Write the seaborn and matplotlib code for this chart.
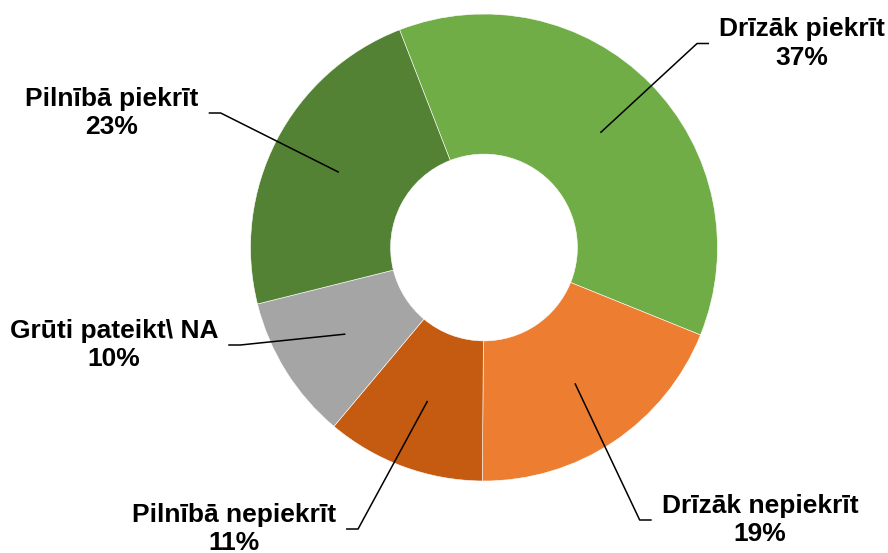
import matplotlib
matplotlib.use("Agg")
import matplotlib.pyplot as plt
import seaborn as sns
import numpy as np

# Survey answers, in clockwise order starting from the top of the ring
categories = ["Drīzāk piekrīt", "Drīzāk nepiekrīt", "Pilnībā nepiekrīt",
              "Grūti pateikt\\ NA", "Pilnībā piekrīt"]
shares = [37, 19, 11, 10, 23]
colors = ["#70AD47", "#ED7D31", "#C55A11", "#A5A5A5", "#548235"]

sns.set_theme(style="white")
plt.rcParams["font.family"] = ["Liberation Sans", "DejaVu Sans"]

W, H = 888, 553
fig = plt.figure(figsize=(W / 100, H / 100), dpi=100)
ax = fig.add_axes([0, 0, 1, 1])

cx, cy, R = 484, H - 247.5, 233.5
hole = 0.40
wedges, _ = ax.pie(shares, colors=colors, startangle=111.2, counterclock=False,
                   radius=R, center=(cx, cy),
                   wedgeprops=dict(width=R * (1 - hole), edgecolor="white", linewidth=0.4))

ax.set_xlim(0, W)
ax.set_ylim(0, H)
ax.set_aspect("equal")
ax.axis("off")

# label block centres (pixels from the top-left corner)
label_centres = [(802, 43.5), (760, 520), (234, 529), (114, 345), (112, 113)]

renderer = fig.canvas.get_renderer()
r_mid = R * (1 + hole) / 2
for wedge, name, share, (lx, ly) in zip(wedges, categories, shares, label_centres):
    ty = H - ly
    txt = ax.text(lx, ty, f"{name}\n{share}%", ha="center", va="center",
                  fontsize=19, fontweight="bold", color="black",
                  linespacing=1.24, multialignment="center")
    bb = txt.get_window_extent(renderer=renderer)
    mid = np.deg2rad((wedge.theta1 + wedge.theta2) / 2)
    sx, sy = cx + r_mid * np.cos(mid), cy + r_mid * np.sin(mid)
    if lx > cx:
        hx_end = bb.x0 - 10
        hx_elb = hx_end - 12
    else:
        hx_end = bb.x1 + 10
        hx_elb = hx_end + 12
    ax.plot([sx, hx_elb, hx_end], [sy, ty, ty], color="black", lw=1.1,
            solid_capstyle="butt")

fig.savefig("out.png", dpi=100)
